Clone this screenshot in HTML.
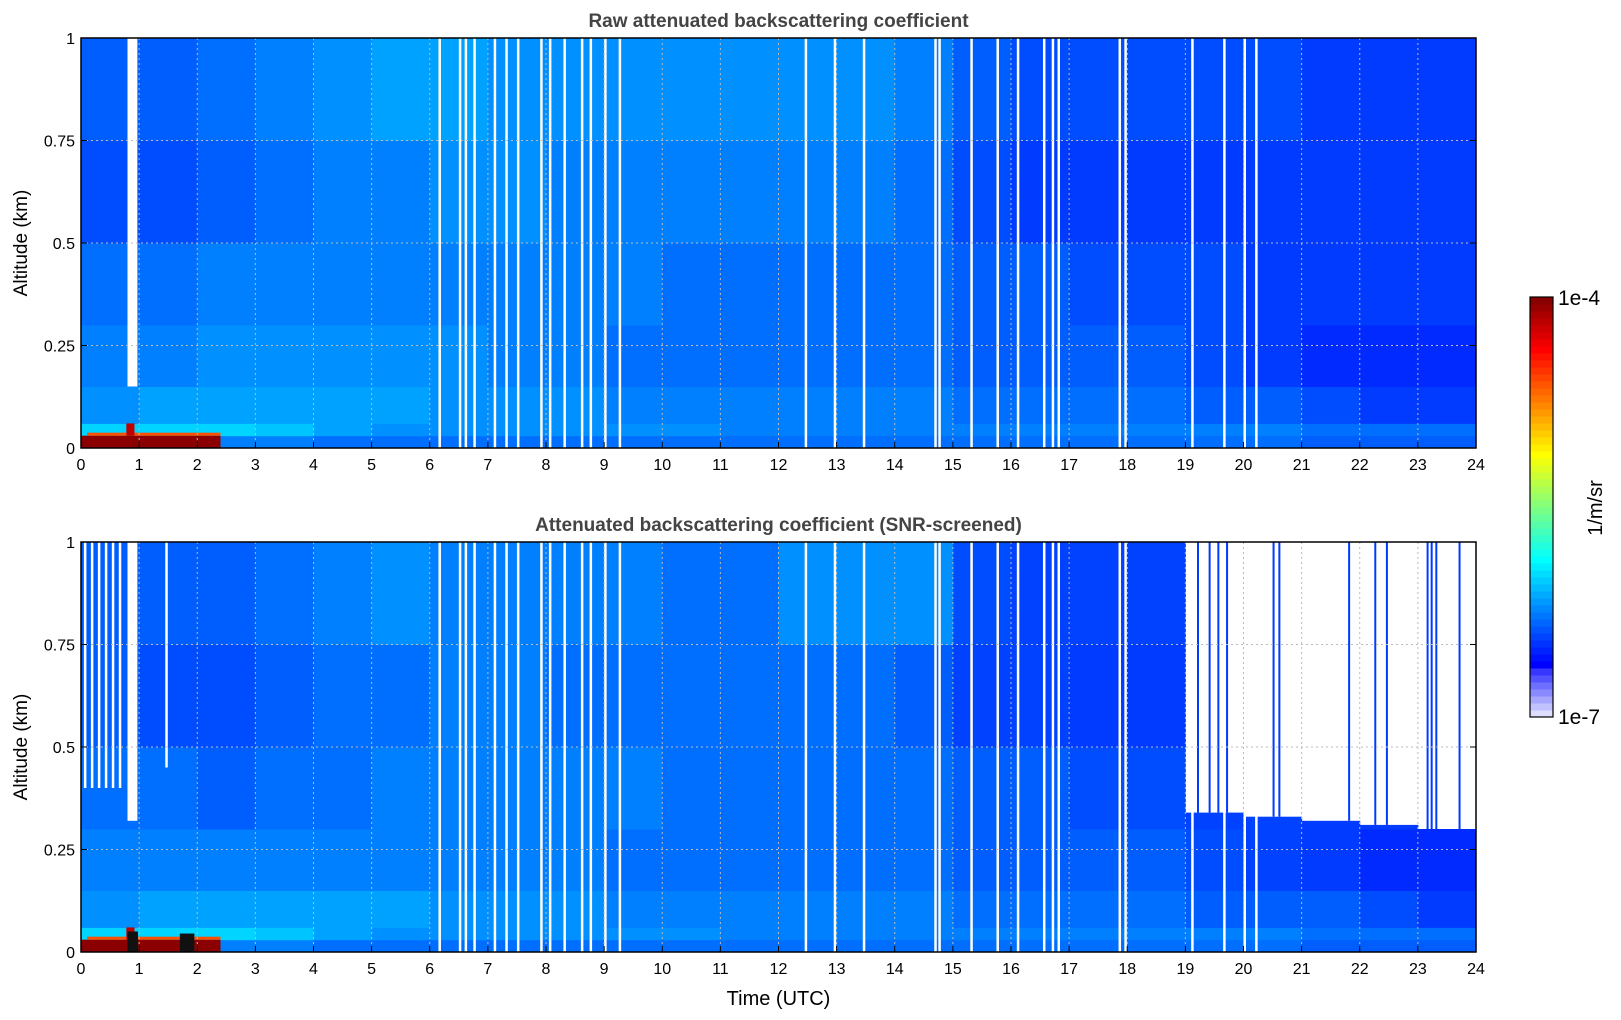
<!DOCTYPE html>
<html><head><meta charset="utf-8">
<style>
body{margin:0;background:#fff;width:1621px;height:1020px;overflow:hidden;font-family:"Liberation Sans","DejaVu Sans",sans-serif;}
svg{position:absolute;left:0;top:0}
</style></head>
<body>
<svg id="fig" width="1621" height="1020"></svg>
<script>
// ---- data (log10 of backscatter, 1/m/sr) ----
const bandEdges = [0,0.03,0.06,0.15,0.3,0.5,0.75,1.0];
const topB0 = [-6.2,-6.2,-6.2,-6.2,-6.25,-6.25,-6.25,-6.25,-6.25,-6.25,-6.25,-6.25,-6.25,-6.25,-6.25,-6.25,-6.25,-6.25,-6.25,-6.25,-6.25,-6.3,-6.3,-6.3];
const topB1 = [-5.95,-5.95,-5.95,-6.0,-6.1,-6.15,-6.15,-6.15,-6.15,-6.15,-6.15,-6.2,-6.2,-6.2,-6.2,-6.2,-6.2,-6.2,-6.2,-6.2,-6.2,-6.25,-6.25,-6.25];
const topB2 = [-6.15,-6.1,-6.1,-6.1,-6.1,-6.1,-6.15,-6.15,-6.15,-6.2,-6.2,-6.2,-6.2,-6.2,-6.2,-6.25,-6.25,-6.25,-6.25,-6.3,-6.3,-6.35,-6.4,-6.4];
const topB3 = [-6.2,-6.2,-6.15,-6.15,-6.15,-6.15,-6.15,-6.2,-6.2,-6.25,-6.25,-6.25,-6.25,-6.25,-6.25,-6.3,-6.3,-6.3,-6.3,-6.35,-6.4,-6.45,-6.45,-6.45];
const topB4 = [-6.25,-6.25,-6.2,-6.2,-6.2,-6.2,-6.2,-6.2,-6.2,-6.2,-6.25,-6.25,-6.25,-6.25,-6.25,-6.3,-6.3,-6.35,-6.35,-6.35,-6.4,-6.4,-6.4,-6.4];
const topB5 = [-6.35,-6.35,-6.3,-6.25,-6.2,-6.2,-6.15,-6.15,-6.2,-6.2,-6.2,-6.2,-6.2,-6.2,-6.25,-6.35,-6.4,-6.4,-6.4,-6.4,-6.4,-6.4,-6.4,-6.4];
const topB6 = [-6.3,-6.3,-6.25,-6.2,-6.15,-6.1,-6.1,-6.15,-6.15,-6.15,-6.15,-6.15,-6.15,-6.15,-6.2,-6.3,-6.35,-6.35,-6.35,-6.35,-6.35,-6.4,-6.4,-6.4];
const botB0 = topB0;
const botB1 = topB1;
const botB2 = [-6.15,-6.1,-6.1,-6.1,-6.1,-6.1,-6.15,-6.15,-6.15,-6.2,-6.2,-6.2,-6.2,-6.2,-6.2,-6.25,-6.25,-6.25,-6.25,-6.3,-6.3,-6.3,-6.35,-6.4];
const botB3 = [-6.2,-6.2,-6.2,-6.2,-6.2,-6.2,-6.2,-6.2,-6.2,-6.25,-6.25,-6.25,-6.25,-6.25,-6.25,-6.3,-6.3,-6.3,-6.3,-6.35,-6.38,-6.4,-6.45,-6.45];
const botB4 = [-6.25,-6.25,-6.3,-6.25,-6.25,-6.2,-6.2,-6.2,-6.2,-6.2,-6.25,-6.25,-6.25,-6.25,-6.25,-6.3,-6.3,-6.35,-6.35,-6.38,-6.38,-6.4,-6.4,-6.4];
const botB5 = [-6.3,-6.35,-6.35,-6.3,-6.25,-6.25,-6.2,-6.2,-6.25,-6.25,-6.25,-6.25,-6.25,-6.25,-6.3,-6.38,-6.38,-6.4,-6.4,-6.4,-6.4,-6.4,-6.4,-6.4];
const botB6 = [-6.3,-6.3,-6.3,-6.25,-6.2,-6.15,-6.2,-6.2,-6.2,-6.2,-6.25,-6.25,-6.15,-6.15,-6.15,-6.35,-6.38,-6.38,-6.38,-6.4,-6.4,-6.4,-6.4,-6.4];
const botScreenTop = [1,1,1,1,1,1,1,1,1,1,1,1,1,1,1,1,1,1,1,0.34,0.33,0.32,0.31,0.3];
const aerosolStart = 0, aerosolEnd = 2.4, aerosolTop = 0.03, aerosolPeakAt = 0.85, aerosolPeakTop = 0.06;
const gapHours = [6.15,6.5,6.6,6.75,7.1,7.3,7.5,7.9,8.05,8.3,8.6,8.75,9.0,9.25,12.45,12.95,13.45,14.68,14.75,15.3,15.75,16.1,16.55,16.7,16.8,17.85,17.95,19.1,19.65,20.0,20.2];
const botFullCols = [19.2,19.4,19.55,19.7,20.5,20.6,21.8,22.25,22.45,23.15,23.22,23.3,23.7];
const xTicks = [0,1,2,3,4,5,6,7,8,9,10,11,12,13,14,15,16,17,18,19,20,21,22,23,24];
const yTicks = [0,0.25,0.5,0.75,1];
const yTickLabels = ["0","0.25","0.5","0.75","1"];

const NS="http://www.w3.org/2000/svg";
const svg=document.getElementById('fig');
function mk(tag,attrs,parent){const e=document.createElementNS(NS,tag);for(const k in attrs)e.setAttribute(k,attrs[k]);(parent||svg).appendChild(e);return e;}
function jet(v){
  let t=(v+7)/3; t=Math.max(0,Math.min(1,t));
  if(t<0.12){const s=t/0.12;return `rgb(${Math.round(235-200*s)},${Math.round(235-200*s)},255)`;}
  const c=x=>Math.round(255*Math.max(0,Math.min(1,x)));
  return `rgb(${c(1.5-Math.abs(4*t-3))},${c(1.5-Math.abs(4*t-2))},${c(1.5-Math.abs(4*t-1))})`;
}
const X0=81,X1=1476;
const xs=h=>X0+h*(X1-X0)/24;
function panel(top,bottom,title,bands,screen,name){
  const ys=a=>bottom-a*(bottom-top);
  const g=mk('g',{});
  
  
  for(let b=0;b<7;b++){for(let h=0;h<24;h++){
    let a0=bandEdges[b],a1=bandEdges[b+1];
    if(screen){a1=Math.min(a1,screen[h]);}
    if(a1<=a0)continue;
    const r=mk('rect',{x:xs(h),y:ys(a1),width:xs(h+1)-xs(h)+0.5,height:ys(a0)-ys(a1)+0.5,fill:jet(bands[b][h]-0.05)},g);
    
    
  }}
  if(screen){for(const h of botFullCols){
    const r=mk('rect',{x:xs(h),y:top,width:2,height:ys(screen[Math.floor(h)])-top,fill:jet(-6.45)},g);
    
    
  }}
  const al=mk('rect',{x:xs(aerosolStart),y:ys(aerosolTop),width:xs(aerosolEnd)-xs(aerosolStart),height:ys(0)-ys(aerosolTop),fill:'#8b0000'},g);
  
  mk('rect',{x:xs(aerosolStart)+6,y:ys(aerosolTop)-3,width:xs(aerosolEnd)-xs(aerosolStart)-6,height:3,fill:'#ff5000'},g);
  mk('rect',{x:xs(aerosolPeakAt-0.07),y:ys(aerosolPeakTop),width:xs(0.14)-X0,height:ys(aerosolTop)-ys(aerosolPeakTop),fill:'#c00000'},g);
  mk('rect',{x:xs(0.8),y:top,width:xs(0.97)-xs(0.8),height:ys(screen?0.32:0.15)-top,fill:'#fff'},g);
  for(const h of gapHours){
    const r=mk('rect',{x:xs(h),y:top,width:2.5,height:bottom-top,fill:'#fff'},g);
    
  }
  if(screen){
    for(let k=0;k<6;k++)mk('rect',{x:xs(0.05+k*0.12),y:top,width:2.5,height:ys(0.4)-top,fill:'#fff'},g);
    mk('rect',{x:xs(1.45),y:top,width:2.5,height:ys(0.45)-top,fill:'#fff'},g);
    mk('rect',{x:xs(0.8),y:ys(0.05),width:xs(0.18)-X0,height:ys(0)-ys(0.05),fill:'#111'},g);
    mk('rect',{x:xs(1.7),y:ys(0.045),width:xs(0.25)-X0,height:ys(0)-ys(0.045),fill:'#111'},g);
  }
  for(const h of xTicks){mk('line',{x1:xs(h),x2:xs(h),y1:top,y2:bottom,stroke:'#bbb','stroke-width':1,'stroke-dasharray':'2,3'},g);}
  for(const a of yTicks){mk('line',{x1:X0,x2:X1,y1:ys(a),y2:ys(a),stroke:'#bbb','stroke-width':1,'stroke-dasharray':'2,3'},g);}
  mk('rect',{x:X0,y:top,width:X1-X0,height:bottom-top,fill:'none',stroke:'#000','stroke-width':1.5},g);
  xTicks.forEach(h=>{
    mk('line',{x1:xs(h),x2:xs(h),y1:bottom,y2:bottom-6,stroke:'#000'},g);
    const t=mk('text',{x:xs(h),y:bottom+22,'text-anchor':'middle','font-size':16},g);t.textContent=h;
    
  });
  yTicks.forEach((a,i)=>{
    mk('line',{x1:X0,x2:X0+6,y1:ys(a),y2:ys(a),stroke:'#000'},g);
    mk('line',{x1:X1,x2:X1-6,y1:ys(a),y2:ys(a),stroke:'#000'},g);
    const t=mk('text',{x:X0-6,y:ys(a)+6,'text-anchor':'end','font-size':16},g);t.textContent=yTickLabels[i];
    
  });
  const tt=mk('text',{x:(X0+X1)/2,y:top-11,'text-anchor':'middle','font-size':19,'font-weight':'bold',fill:'#444'},g);tt.textContent=title;
  
  const yl=mk('text',{x:27,y:(top+bottom)/2,'text-anchor':'middle','font-size':19,transform:`rotate(-90 27 ${(top+bottom)/2})`},g);yl.textContent='Altitude (km)';
  
}
panel(38,448,'Raw attenuated backscattering coefficient',[topB0,topB1,topB2,topB3,topB4,topB5,topB6],null,'raw-backscatter-panel');
panel(542,952,'Attenuated backscattering coefficient (SNR-screened)',[botB0,botB1,botB2,botB3,botB4,botB5,botB6],botScreenTop,'screened-backscatter-panel');
const xl=mk('text',{x:(X0+X1)/2,y:1005,'text-anchor':'middle','font-size':20});xl.textContent='Time (UTC)';

const cb=mk('g',{});

const CT=297,CB=717,CX=1530,CW=23,N=60;
for(let i=0;i<N;i++){
  const v=-7+3*(i+0.5)/N;
  mk('rect',{x:CX,y:CB-(i+1)*(CB-CT)/N,width:CW,height:(CB-CT)/N+0.5,fill:jet(v)},cb);
}
mk('rect',{x:CX,y:CT,width:CW,height:CB-CT,fill:'none',stroke:'#000','stroke-width':1.2},cb);
const c1=mk('text',{x:1558,y:305,'font-size':21},cb);c1.textContent='1e-4';
const c2=mk('text',{x:1558,y:724,'font-size':21},cb);c2.textContent='1e-7';
const cu=mk('text',{x:1602,y:508,'text-anchor':'middle','font-size':20,transform:'rotate(-90 1602 508)'},cb);cu.textContent='1/m/sr';

</script>
</body></html>
